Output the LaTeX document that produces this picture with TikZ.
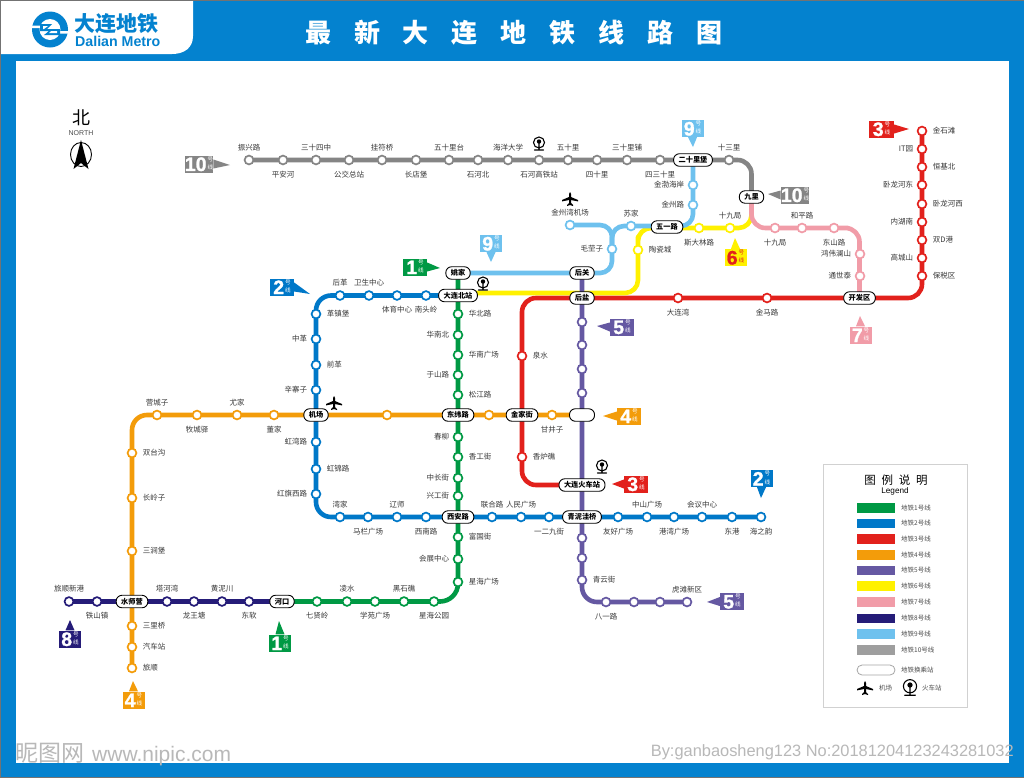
\documentclass[tikz,border=0pt]{standalone}
\usepackage{fontspec}
\setmainfont{Noto Sans CJK SC}
\newfontfamily\numfont[BoldFeatures={FakeBold=1.2}]{Liberation Sans}
\newfontfamily\plainsans{Liberation Sans}
\usetikzlibrary{calc,backgrounds}
\definecolor{cFrame}{HTML}{0482CF}
\definecolor{cGreen}{HTML}{009944}
\definecolor{cBlue}{HTML}{0078C8}
\definecolor{cRed}{HTML}{E2211C}
\definecolor{cOrange}{HTML}{F39C0A}
\definecolor{cPurple}{HTML}{6558A2}
\definecolor{cYellow}{HTML}{FFF100}
\definecolor{cPink}{HTML}{F19CA8}
\definecolor{cNavy}{HTML}{251C78}
\definecolor{cSky}{HTML}{6EC1EE}
\definecolor{cGrey}{HTML}{858585}
\newcommand{\tagnum}[1]{{\numfont\bfseries\fontsize{19.5}{20}\selectfont #1}\hspace{1pt}\raisebox{1.5pt}{\fontsize{5.6}{5.6}\selectfont\shortstack{号\\线}}}
\tikzset{
	stn/.style={circle,draw=#1,fill=white,line width=1.7,minimum size=8.8,inner sep=0},
	hub/.style={draw=black,fill=white,line width=.9,rounded corners=5.8,inner xsep=5,inner ysep=0,minimum height=12.5,font=\fontsize{7.2}{8}\bfseries\selectfont},
	lab/.style={font=\fontsize{7.5}{8}\selectfont,text=black!78,inner sep=1},
	labbelow/.style={yshift=-2},
	labright/.style={xshift=2},
	lababove/.style={},
	lableft/.style={},
	tube/.style={line width=4.6,color=#1,line join=round},
	tagbox/.style={fill=#1,inner sep=0,minimum height=17,minimum width=22},
	legbar/.style={fill=#1,minimum width=38,minimum height=9.6,inner sep=0},
	legtxt/.style={font=\fontsize{6.5}{7}\selectfont,text=black!70,anchor=west,inner sep=0},
	plane/.pic={\fill (0,-7)--(1,-5)--(1,-2)--(8,1)--(8,2.4)--(1,1)--(1,4)--(3,6)--(3,7)--(0,6)--(-3,7)--(-3,6)--(-1,4)--(-1,1)--(-8,2.4)--(-8,1)--(-1,-2)--(-1,-5)--cycle;},
	rail/.pic={\draw[line width=1.1] (0,-1.5) circle (5.5) (0,-2)--(0,6) (-4.5,6)--(4.5,6);\fill (0,-2.5) circle (2.2);}
}
\begin{document}
\begin{tikzpicture}[x=1pt,y=-1pt,line cap=round,label distance=2.5]
	\useasboundingbox (0,0) rectangle (1024,777);
	% frame
	\begin{scope}[on background layer]
		\fill[cFrame] (0,0) rectangle (1024,777);
		\fill[white] (16,61) rectangle (1009,763);
		\fill[white] (0,0) -- (193,0) -- (193,36) .. controls (193,48) and (184,54) .. (172,54) -- (0,54) -- cycle;
		\draw[black!55,line width=.6] (0,0) rectangle (1024,777);
	\end{scope}
	% logo
	\fill[cFrame] (50,29.5) circle (18);
	\fill[white] (50,29.5) circle (10.5);
	\fill[white] (32,25.5) rectangle (42,28) (58,31) rectangle (68,33.5);
	\fill[cFrame] (40,24) -- (52,24) -- (47,29) -- (60,29) -- (60,35) -- (44,35) -- (49,31) -- (40,31) -- cycle;
	\fill[white] (43,26) -- (48,26) -- (44,29) -- (43,29) -- cycle (51,31) -- (57,31) -- (57,33) -- (49,33) -- cycle;
	\node[font=\fontsize{21}{22}\bfseries\selectfont,text=cFrame,inner sep=0,anchor=west] (logocn) at (74.5,23.5) {大连地铁};
	\node[font=\plainsans\fontsize{14.2}{15}\bfseries\selectfont,text=cFrame,inner sep=0,anchor=west] (logoen) at (75,41) {Dalian Metro};
	\node[font=\fontsize{26}{28}\bfseries\selectfont\addfontfeature{LetterSpace=88},text=white,inner sep=0,anchor=west] (title) at (305,33) {最新大连地铁线路图};
	% north
	\node[font=\fontsize{18}{18}\selectfont,inner sep=0] (north) at (81,118) {北};
	\node[font=\plainsans\fontsize{7}{7}\selectfont,text=black!70,inner sep=0] (northen) at (81,133.5) {NORTH};
	\draw[line width=.9] (81,154.5) ellipse (10.5 and 12);
	\fill (81,140) -- (88.5,169) -- (81,163) -- (73.5,169) -- cycle;

	% hubs
	\foreach \n/\x/\y/\txt in {Yaojia/458/273/姚家,DLBei/458/295.5/大连北站,Houguan/582/273/后关,Houyan/582/298/后盐,Jichang/316/415/机场,Dongwei/458/415/东纬路,Jinjia/522/415/金家街,Huoche/582/485/大连火车站,Qingni/582/517/青泥洼桥,Xian/458/517/西安路,Hekou/282/601.5/河口,Shuishi/132/601.5/水师营,Wuyi/667/227/五一路,Ershili/693/160/二十里堡,Jiuli/751.5/197/九里,Kaifa/859.5/298/开发区}
		\node[hub] (\n) at (\x,\y) {\txt};
	\node[hub,minimum width=25] (HubX) at (582,415) {};

	% line 1
	\foreach \n/\x/\y/\txt/\pos in {g1/458/314/华北路/right,g2/458/335/华南北/left,g3/458/355/华南广场/right,g4/458/375/于山路/left,g5/458/395/松江路/right,g6/458/437/春柳/left,g7/458/457/香工街/right,g8/458/478/中长街/left,g9/458/496/兴工街/left,g10/458/537/富国街/right,g11/458/559/会展中心/left,g12/458/582/星海广场/right,g13/434/601.5/星海公园/below,g14/404/601.5/黑石礁/above,g15/375/601.5/学苑广场/below,g16/347/601.5/凌水/above,g17/317/601.5/七贤岭/below}
		\node[stn=cGreen,label={[lab,lab\pos]\pos:\txt}] (\n) at (\x,\y) {};
	% line 2
	\foreach \n/\x/\y/\txt/\pos in {b1/426/295.5/南头岭/below,b2/397/295.5/体育中心/below,b3/369/295.5/卫生中心/above,b4/340/295.5/后革/above,b5/316/314/革镇堡/right,b6/316/339/中革/left,b7/316/365/前革/right,b8/316/390/辛寨子/left,b9/316/442/虹湾路/left,b10/316/469/虹锦路/right,b11/316/494/红旗西路/left,b12/340/517/湾家/above,b13/368/517/马栏广场/below,b14/397/517/辽师/above,b15/426/517/西南路/below,b16/492/517/联合路/above,b17/521/517/人民广场/above,b18/549/517/一二九街/below,b19/618/517/友好广场/below,b20/647/517/中山广场/above,b21/674/517/港湾广场/below,b22/702/517/会议中心/above,b23/732/517/东港/below,b24/761/517/海之韵/below}
		\node[stn=cBlue,label={[lab,lab\pos]\pos:\txt}] (\n) at (\x,\y) {};
	% line 3
	\foreach \n/\x/\y/\txt/\pos in {r1/922/131/金石滩/right,r2/922/149/IT园/left,r3/922/167/恒基北/right,r4/922/185/卧龙河东/left,r5/922/204/卧龙河西/right,r6/922/222/内湖南/left,r7/922/240/双D港/right,r8/922/258/高城山/left,r9/922/276/保税区/right,r10/767/298/金马路/below,r11/678/298/大连湾/below,r12/522/356/泉水/right,r13/522/457/香炉礁/right}
		\node[stn=cRed,label={[lab,lab\pos]\pos:\txt}] (\n) at (\x,\y) {};
	% line 4
	\foreach \n/\x/\y/\txt/\pos in {o1/552/415/甘井子/below,o2/274/415/董家/below,o3/237/415/尤家/above,o4/197/415/牧城驿/below,o5/157/415/营城子/above,o6/132/453/双台沟/right,o7/132/498/长岭子/right,o8/132/551/三涧堡/right,o9/132/626/三里桥/right,o10/132/647/汽车站/right,o11/132/668/旅顺/right}
		\node[stn=cOrange,label={[lab,lab\pos]\pos:\txt}] (\n) at (\x,\y) {};
	\foreach \n/\x in {o12/387,o13/489}
		\node[stn=cOrange] (\n) at (\x,415) {};
	% line 5
	\foreach \n/\x/\y in {p1/582/322,p2/582/345,p3/582/369,p4/582/393,p5/582/538,p6/582/558,p7/634/602,p8/660/602}
		\node[stn=cPurple] (\n) at (\x,\y) {};
	\foreach \n/\x/\y/\txt/\pos in {p9/582/580/青云街/right,p10/606/602/八一路/below,p11/687/602/虎滩新区/above}
		\node[stn=cPurple,label={[lab,lab\pos]\pos:\txt}] (\n) at (\x,\y) {};
	% line 6
	\foreach \n/\x/\y/\txt/\pos in {y1/638/250/陶瓷城/right,y2/699/228/斯大林路/below,y3/730/228/十九局/above}
		\node[stn=cYellow,label={[lab,lab\pos]\pos:\txt}] (\n) at (\x,\y) {};
	% line 7
	\foreach \n/\x/\y/\txt/\pos in {k1/775/228/十九局/below,k2/802/228/和平路/above,k3/834/228/东山路/below,k4/860/254/鸿伟澜山/left,k5/860/276/通世泰/left}
		\node[stn=cPink,label={[lab,lab\pos]\pos:\txt}] (\n) at (\x,\y) {};
	% line 8
	\foreach \n/\x/\txt/\pos in {n1/69/旅顺新港/above,n2/97/铁山镇/below,n3/167/塔河湾/above,n4/194/龙王塘/below,n5/222/黄泥川/above,n6/249/东软/below}
		\node[stn=cNavy,label={[lab,lab\pos]\pos:\txt}] (\n) at (\x,601.5) {};
	% line 9
	\foreach \n/\x/\y/\txt/\pos in {s1/693/185/金渤海岸/left,s2/693/205/金州路/left,s3/631/226/苏家/above,s4/612/249/毛茔子/left,s5/570/225/金州湾机场/above}
		\node[stn=cSky,label={[lab,lab\pos]\pos:\txt}] (\n) at (\x,\y) {};
	% line 10
	\foreach \n/\x/\txt/\pos in {h1/249/振兴路/above,h2/283/平安河/below,h3/316/三十四中/above,h4/349/公交总站/below,h5/382/挂符桥/above,h6/416/长店堡/below,h7/449/五十里台/above,h8/478/石河北/below,h9/508/海洋大学/above,h10/539/石河高铁站/below,h11/568/五十里/above,h12/597/四十里/below,h13/627/三十里铺/above,h14/660/四三十里/below,h15/729/十三里/above}
		\node[stn=cGrey,label={[lab,lab\pos]\pos:\txt}] (\n) at (\x,160) {};

	\coordinate (skyE) at (667,226);
	\coordinate (yelW) at (465,293);
	\begin{scope}[on background layer]
		\draw[tube=cRed,rounded corners=14] (r1.center) |- (Houyan.center) -| (Jinjia.center) |- (Huoche.center);
		\draw[tube=cYellow,rounded corners=13] (Jiuli.center) |- (y2.center) -| (y1.center) |- (yelW);
		\draw[tube=cPink,rounded corners=14] (Jiuli.center) |- (k3.center) -| (Kaifa.center);
		\draw[tube=cGrey,rounded corners=14] (h1.center) -| (Jiuli.center);
		\draw[tube=cSky,rounded corners=12] (Ershili.center) |- (skyE) -| (s4.center) |- (Yaojia.center);
		\draw[tube=cSky,rounded corners=12] (s5.center) -| (s4.center);
		\draw[tube=cPurple,rounded corners=15] (Houguan.center) |- (p11.center);
		\draw[tube=cOrange,rounded corners=15] (HubX.center) -| (o11.center);
		\draw[tube=cNavy] (n1.center) -- (Hekou.center);
		\draw[tube=cBlue,rounded corners=15] (DLBei.center) -| (Jichang.center) |- (b24.center);
		\draw[tube=cGreen,rounded corners=18] (Yaojia.center) |- (Hekou.center);
	\end{scope}

	% line tags
	\foreach \n/\c/\tc/\w/\x/\y/\k/\tx/\ty/\a in {tagA/cGrey/white/28/199/164/10/230/165/0,tagB/cGreen/white/24/415/267/1/440/268/0,tagC/cSky/white/22/491/243.5/9/491/262/270,tagD/cSky/white/22/692.5/128.5/9/693/147/270,tagE/cGrey/white/28/795/195/10/768/194/180,tagF/cRed/white/25/881.5/129/3/909/129/0,tagG/cYellow/cRed/22/735.5/257.5/6/735/238/90,tagH/cPink/white/22/860.5/335/7/860/316/90,tagI/cBlue/white/24/282/287/2/310/294/0,tagJ/cPurple/white/24/622/327/5/597/326/180,tagK/cOrange/white/24/629/416/4/603/416/180,tagL/cRed/white/24/636/484/3/612/484/180,tagM/cBlue/white/22/761.5/478.5/2/761/498/270,tagN/cPurple/white/24/732/601.5/5/707/602/180,tagO/cNavy/white/22/70/639/8/70/620/90,tagP/cGreen/white/22/280/643/1/279/621/90,tagQ/cOrange/white/22/133.5/700/4/133/681/90}{
		\node[tagbox=\c,text=\tc,minimum width=\w] (\n) at (\x,\y) {\tagnum{\k}};
		\coordinate (\n tip) at (\tx,\ty);
		\fill[fill=\c] ($(\n.\a)+(\a+90:4.5)$) -- ($(\n.\a)+(\a-90:4.5)$) -- (\n tip) -- cycle;
	}

	% stations with icons
	\pic at (570,199) {plane};
	\pic at (334,403) {plane};
	\pic at (539,144) {rail};
	\pic at (483,284) {rail};
	\pic at (602,467) {rail};

	% legend
	\draw[black!18,line width=.8] (823,464) rectangle (967,707);
	\node[font=\fontsize{11.5}{12}\selectfont\addfontfeature{LetterSpace=50},inner sep=0] (legtitle) at (896,480) {图例说明};
	\node[font=\plainsans\fontsize{8.2}{8}\selectfont,inner sep=0] (legen) at (895,491.5) {Legend};
	\foreach \c/\y/\k in {cGreen/508/1,cBlue/523.5/2,cRed/539/3,cOrange/555/4,cPurple/570.5/5,cYellow/586/6,cPink/602/7,cNavy/618.5/8,cSky/634/9,black!38/650/10}{
		\node[legbar=\c] (leg\k) at (876,\y) {};
		\node[legtxt] (legt\k) at (901,\y) {地铁\k 号线};
	}
	\node[draw=black!35,line width=.8,rounded corners=5,minimum width=38,minimum height=10,inner sep=0] (leghub) at (876,670) {};
	\node[legtxt] (legt11) at (901,670) {地铁换乘站};
	\pic at (865,688) {plane};
	\pic[scale=1.2] at (910,688) {rail};
	\node[legtxt] (legt12) at (879,688) {机场};
	\node[legtxt] (legt13) at (922,688) {火车站};

	% marks
	\node[font=\fontsize{23}{24}\selectfont,text=black!28,inner sep=0,anchor=west] (markA) at (15,753) {昵图网};
	\node[font=\plainsans\fontsize{21}{22}\selectfont,text=black!28,inner sep=0,anchor=west] (markB) at (92,756) {www.nipic.com};
	\node[font=\plainsans\fontsize{16.4}{17}\selectfont,text=black!28,inner sep=0,anchor=east] (markC) at (1014,752) {By:ganbaosheng123 No:20181204123243281032};
\end{tikzpicture}
\end{document}
